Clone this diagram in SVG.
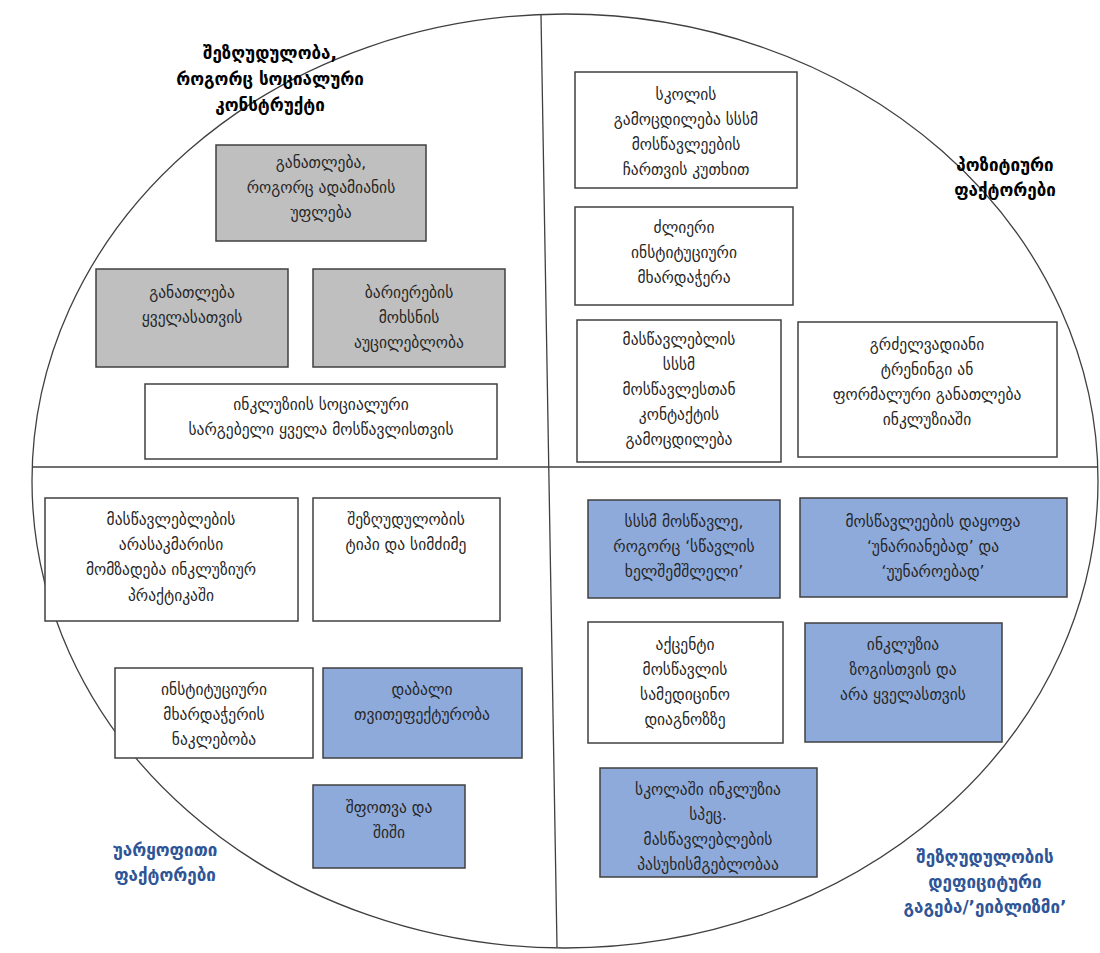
<svg xmlns="http://www.w3.org/2000/svg" width="1100" height="953" viewBox="0 0 1100 953">
<style>
.bx{stroke:#404040;stroke-width:1.5}
.g{fill:#bfbfbf}
.w{fill:#ffffff}
.b{fill:#8eaadb}
text{font-family:"DejaVu Sans","Noto Sans",sans-serif;font-size:15.5px;fill:#262626;text-anchor:middle}
.lbl{font-weight:bold;font-size:17px;fill:#000}
.lblb{font-weight:bold;font-size:17px;fill:#2f5597}
.ln{stroke:#404040;stroke-width:1.3;fill:none}
</style>
<rect width="1100" height="953" fill="#ffffff"/>
<g id="connectors">
<ellipse class="ln" cx="565" cy="481" rx="533" ry="467"/>
<line class="ln" x1="541" y1="15" x2="557" y2="947"/>
<line class="ln" x1="33" y1="467" x2="1097" y2="467"/>
</g>
<g id="label-social">
<text class="lbl" x="270" y="59">შეზღუდულობა,</text>
<text class="lbl" x="270" y="85">როგორც სოციალური</text>
<text class="lbl" x="270" y="111">კონსტრუქტი</text>
</g>
<g id="label-positive">
<text class="lbl" x="1005" y="171">პოზიტიური</text>
<text class="lbl" x="1005" y="196">ფაქტორები</text>
</g>
<g id="label-negative">
<text class="lblb" x="165" y="856">უარყოფითი</text>
<text class="lblb" x="165" y="881">ფაქტორები</text>
</g>
<g id="label-ableism">
<text class="lblb" x="985" y="863">შეზღუდულობის</text>
<text class="lblb" x="985" y="888">დეფიციტური</text>
<text class="lblb" x="985" y="913">გაგება/’ეიბლიზმი’</text>
</g>
<g id="n1"><rect class="bx g" x="216" y="145" width="210" height="96"/>
<text x="321" y="168">განათლება,</text><text x="321" y="193">როგორც ადამიანის</text><text x="321" y="218">უფლება</text></g>
<g id="n2"><rect class="bx g" x="96" y="269" width="192" height="98"/>
<text x="192" y="298">განათლება</text><text x="192" y="323">ყველასათვის</text></g>
<g id="n3"><rect class="bx g" x="313" y="269" width="192" height="98"/>
<text x="409" y="298">ბარიერების</text><text x="409" y="323">მოხსნის</text><text x="409" y="348">აუცილებლობა</text></g>
<g id="n4"><rect class="bx w" x="145" y="384" width="352" height="75"/>
<text x="321" y="410">ინკლუზიის სოციალური</text><text x="321" y="435">სარგებელი ყველა მოსწავლისთვის</text></g>
<g id="n5"><rect class="bx w" x="575" y="72" width="222" height="116"/>
<text x="686" y="100">სკოლის</text><text x="686" y="125">გამოცდილება სსსმ</text><text x="686" y="150">მოსწავლეების</text><text x="686" y="175">ჩართვის კუთხით</text></g>
<g id="n6"><rect class="bx w" x="575" y="207" width="218" height="98"/>
<text x="684" y="233">ძლიერი</text><text x="684" y="258">ინსტიტუციური</text><text x="684" y="283">მხარდაჭერა</text></g>
<g id="n7"><rect class="bx w" x="577" y="320" width="204" height="142"/>
<text x="679" y="345">მასწავლებლის</text><text x="679" y="370">სსსმ</text><text x="679" y="395">მოსწავლესთან</text><text x="679" y="420">კონტაქტის</text><text x="679" y="445">გამოცდილება</text></g>
<g id="n8"><rect class="bx w" x="798" y="322" width="259" height="135"/>
<text x="927" y="350">გრძელვადიანი</text><text x="927" y="375">ტრენინგი ან</text><text x="927" y="400">ფორმალური განათლება</text><text x="927" y="425">ინკლუზიაში</text></g>
<g id="n9"><rect class="bx w" x="45" y="498" width="253" height="123"/>
<text x="171" y="525">მასწავლებლების</text><text x="171" y="550">არასაკმარისი</text><text x="171" y="575">მომზადება ინკლუზიურ</text><text x="171" y="601">პრაქტიკაში</text></g>
<g id="n10"><rect class="bx w" x="313" y="498" width="187" height="123"/>
<text x="406" y="525">შეზღუდულობის</text><text x="406" y="550">ტიპი და სიმძიმე</text></g>
<g id="n11"><rect class="bx w" x="115" y="668" width="198" height="90"/>
<text x="214" y="695">ინსტიტუციური</text><text x="214" y="720">მხარდაჭერის</text><text x="214" y="745">ნაკლებობა</text></g>
<g id="n12"><rect class="bx b" x="323" y="668" width="199" height="90"/>
<text x="422" y="695">დაბალი</text><text x="422" y="720">თვითეფექტურობა</text></g>
<g id="n13"><rect class="bx b" x="313" y="785" width="152" height="83"/>
<text x="389" y="813">შფოთვა და</text><text x="389" y="838">შიში</text></g>
<g id="n14"><rect class="bx b" x="588" y="500" width="192" height="98"/>
<text x="684" y="527">სსსმ მოსწავლე,</text><text x="684" y="552">როგორც ‘სწავლის</text><text x="684" y="577">ხელშემშლელი’</text></g>
<g id="n15"><rect class="bx b" x="800" y="498" width="267" height="99"/>
<text x="933" y="527">მოსწავლეების დაყოფა</text><text x="933" y="552">‘უნარიანებად’ და</text><text x="933" y="577">‘უუნაროებად’</text></g>
<g id="n16"><rect class="bx w" x="588" y="622" width="195" height="121"/>
<text x="685" y="650">აქცენტი</text><text x="685" y="675">მოსწავლის</text><text x="685" y="700">სამედიცინო</text><text x="685" y="725">დიაგნოზზე</text></g>
<g id="n17"><rect class="bx b" x="805" y="623" width="197" height="119"/>
<text x="903" y="650">ინკლუზია</text><text x="903" y="675">ზოგისთვის და</text><text x="903" y="700">არა ყველასთვის</text></g>
<g id="n18"><rect class="bx b" x="600" y="768" width="217" height="109"/>
<text x="708" y="795">სკოლაში ინკლუზია</text><text x="708" y="820">სპეც.</text><text x="708" y="845">მასწავლებლების</text><text x="708" y="870">პასუხისმგებლობაა</text></g>
</svg>
